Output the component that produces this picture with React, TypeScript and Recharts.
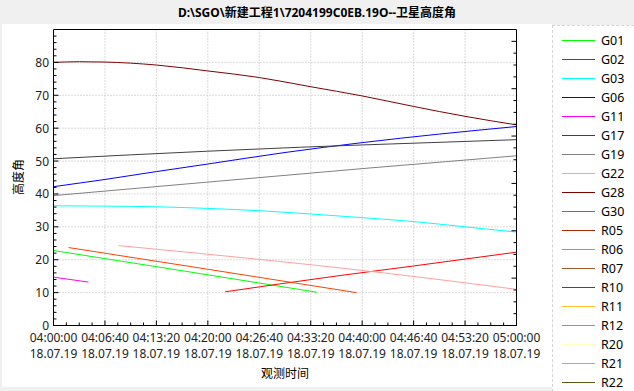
import React from 'react';
import { LineChart, Line, XAxis, YAxis, CartesianGrid } from 'recharts';

const title = 'D:\\SGO\\新建工程1\\7204199C0EB.19O--卫星高度角';
const xTitle = '观测时间';
const yTitle = '高度角';
const dateLabel = '18.07.19';

// legend entries (all satellites in the file)
const legendNames = ['G01', 'G02', 'G03', 'G06', 'G11', 'G17', 'G19', 'G22', 'G28', 'G30', 'R05', 'R06', 'R07', 'R10', 'R11', 'R12', 'R20', 'R21', 'R22'];
const legendColors = ['#00ff00', '#ff0000', '#00ffff', '#0000ff', '#ff00ff', '#404040', '#808080', '#ffa0a0', '#800000', '#ff4000', '#a82800', '#ff8000', '#a05a28', '#804000', '#ffc030', '#c89600', '#ffffc0', '#c0c000', '#5a5a10'];

// [seconds after 04:00:00, elevation deg]
const g01 = [[0, 22.8], [1025, 16.5], [2050, 10.1]];
const g02 = [[1336, 10.25], [2230, 15.2], [2800, 18.1], [3600, 22.3]];
const g03 = [[0, 36.4], [400, 36.3], [800, 36.1], [1200, 35.6], [1600, 34.9], [2000, 33.9], [2400, 32.8], [2800, 31.6], [3200, 30.0], [3600, 28.4]];
const g06 = [[0, 42.2], [400, 44.4], [800, 46.8], [1200, 49.1], [1800, 52.6], [2400, 55.6], [3000, 58.2], [3600, 60.5]];
const g11 = [[0, 14.7], [272, 13.2]];
const g17 = [[0, 50.7], [1200, 53.0], [1920, 54.2], [2400, 54.9], [3600, 56.5]];
const g19 = [[0, 39.5], [1200, 43.6], [2400, 47.7], [3600, 51.6]];
const g22 = [[506, 24.3], [1600, 20.1], [2230, 17.5], [3600, 11.0]];
const g28 = [[0, 80.0], [200, 80.2], [400, 80.1], [800, 79.2], [1200, 77.4], [1600, 75.4], [2000, 72.6], [2400, 69.8], [2800, 66.6], [3200, 63.6], [3600, 61.0]];
const g30 = [[117, 23.7], [1200, 17.1], [2355, 10.0]];

const plotted: [string, number[][]][] = [
  ['G01', g01], ['G02', g02], ['G03', g03], ['G06', g06], ['G11', g11],
  ['G17', g17], ['G19', g19], ['G22', g22], ['G28', g28], ['G30', g30],
];

const xMajorTicks = [0, 400, 800, 1200, 1600, 2000, 2400, 2800, 3200, 3600];
const xMinorTicks = xMajorTicks.slice(0, -1).flatMap((m) => [m + 100, m + 200, m + 300]);
const yMajorTicks = [0, 10, 20, 30, 40, 50, 60, 70, 80];
const yMinorTicks = yMajorTicks.flatMap((m) => [m + 2, m + 4, m + 6, m + 8]);
const auxMajorTicks = [0, 1, 2, 3, 4, 5, 6];
const auxMinorTicks = auxMajorTicks.flatMap((m) => [m + 0.25, m + 0.5, m + 0.75]).filter((v) => v < 6.25);
const xGrid = [400, 800, 1200, 1600, 2000, 2400, 2800, 3200];
const yGrid = [10, 20, 30, 40, 50, 60, 70, 80];

const font = "'Noto Sans', 'Noto Sans CJK SC', sans-serif";

const fmtTime = (t: number) => {
  const s = 4 * 3600 + t;
  const p = (n: number) => String(n).padStart(2, '0');
  return `${p(Math.floor(s / 3600))}:${p(Math.floor((s % 3600) / 60))}:${p(s % 60)}`;
};

const BottomTick = ({ x, y, payload }: any) => {
  const major = xMajorTicks.includes(payload.value);
  if (!major) return <line x1={x} x2={x} y1={y} y2={y - 3} stroke="#000" />;
  return (
    <g>
      <line x1={x} x2={x} y1={y} y2={y - 5} stroke="#000" />
      <text x={x} y={y + 16} textAnchor="middle" fontSize={12} fontFamily={font} fill="#222">{fmtTime(payload.value)}</text>
      <text x={x} y={y + 32.5} textAnchor="middle" fontSize={12} fontFamily={font} fill="#222">{dateLabel}</text>
    </g>
  );
};

const LeftTick = ({ x, y, payload }: any) => {
  const major = yMajorTicks.includes(payload.value);
  if (!major) return <line x1={x} x2={x + 3} y1={y} y2={y} stroke="#000" />;
  return (
    <g>
      <line x1={x} x2={x + 5} y1={y} y2={y} stroke="#000" />
      <text x={x - 4.5} y={y + 4.5} textAnchor="end" fontSize={12} fontFamily={font} fill="#222">{payload.value}</text>
    </g>
  );
};

const TopTick = ({ x, y, payload }: any) => {
  const len = auxMajorTicks.includes(payload.value) ? 5 : 3;
  return <line x1={x} x2={x} y1={y} y2={y + len} stroke="#000" />;
};

const RightTick = ({ x, y, payload }: any) => {
  const len = auxMajorTicks.includes(payload.value) ? 5 : 3;
  return <line x1={x} x2={x - len} y1={y} y2={y} stroke="#000" />;
};

export default function App() {
  return (
    <div style={{ position: 'absolute', left: 0, top: 0, width: 634, height: 391, background: '#f0f0f0', overflow: 'hidden', fontFamily: font }}>
      <div style={{ position: 'absolute', left: 0, top: 3, width: 634, textAlign: 'center', fontSize: 12, fontWeight: 'bold', color: '#000' }}>{title}</div>
      <div style={{ position: 'absolute', left: 2, top: 24, width: 550, height: 363, background: '#fff' }} />
      <div style={{ position: 'absolute', left: 0, top: 0 }}>
        <LineChart width={634} height={391} margin={{ top: 28.5, right: 116.5, bottom: 15.5, left: 13.5 }}>
          <CartesianGrid stroke="#b4b4b4" strokeDasharray="1 2" horizontalValues={yGrid} verticalValues={xGrid} />
          <XAxis dataKey="t" type="number" domain={[0, 3600]} ticks={[...xMajorTicks, ...xMinorTicks]} interval={0}
            height={50} tickSize={0} tickMargin={0} tickLine={false} tick={BottomTick} axisLine={{ stroke: '#000' }} allowDataOverflow />
          <XAxis xAxisId="top" orientation="top" type="number" domain={[0, 6.25]} ticks={[...auxMajorTicks, ...auxMinorTicks]} interval={0}
            height={1} tickSize={0} tickMargin={0} tickLine={false} tick={TopTick} axisLine={{ stroke: '#000' }} allowDataOverflow />
          <YAxis type="number" domain={[0, 90]} ticks={[...yMajorTicks, ...yMinorTicks]} interval={0}
            width={40} tickSize={0} tickMargin={0} tickLine={false} tick={LeftTick} axisLine={{ stroke: '#000' }} allowDataOverflow />
          <YAxis yAxisId="right" orientation="right" type="number" domain={[0, 6.25]} ticks={[...auxMajorTicks, ...auxMinorTicks]} interval={0}
            width={1} tickSize={0} tickMargin={0} tickLine={false} tick={RightTick} axisLine={{ stroke: '#000' }} allowDataOverflow />
          {plotted.map(([name, pts]) => (
            <Line key={name} name={name} data={pts.map(([t, v]) => ({ t, v }))} dataKey="v" type="monotone"
              stroke={legendColors[legendNames.indexOf(name)]} strokeWidth={1} dot={false} isAnimationActive={false} />
          ))}
        </LineChart>
      </div>
      <div style={{ position: 'absolute', left: 6, top: 177, transform: 'translate(-50%, -50%) rotate(-90deg)', transformOrigin: 'center', marginLeft: 12, fontSize: 12, color: '#000', whiteSpace: 'nowrap' }}>{yTitle}</div>
      <div style={{ position: 'absolute', left: 285, top: 364, transform: 'translateX(-50%)', fontSize: 12, color: '#000', whiteSpace: 'nowrap' }}>{xTitle}</div>
      <div style={{ position: 'absolute', left: 552, top: 25, width: 100, height: 380, background: '#fff', border: '1px dashed #d4d4d4' }}>
        {legendNames.map((n, i) => (
          <div key={n} style={{ position: 'absolute', left: 9, top: 6 + i * 19, height: 17, display: 'flex', alignItems: 'center' }}>
            <div style={{ width: 33, height: 1, background: legendColors[i] }} />
            <span style={{ marginLeft: 6, fontSize: 12.5, color: '#000' }}>{n}</span>
          </div>
        ))}
      </div>
    </div>
  );
}
